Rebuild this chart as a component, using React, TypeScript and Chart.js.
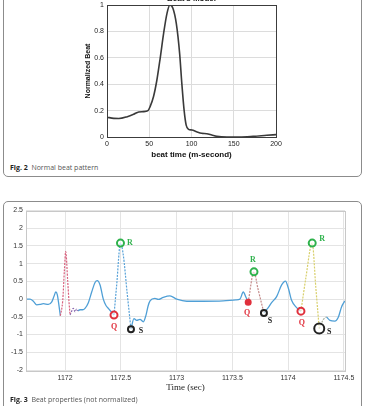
import React, { useEffect, useRef } from "react";
import { Chart, registerables } from "chart.js";

Chart.register(...registerables);

// ---- Fig. 2: normalized beat model ----
const beatMs = [0, 8, 14, 24, 31.5, 37.5, 43, 48.5, 51, 55, 59, 63, 67, 71, 74.5, 78, 82, 86, 88.5, 91.3, 93.7, 96.5, 100.5, 106, 112, 118, 124, 130, 142, 157, 173, 189, 200];
const beatLevel = [0.15, 0.141, 0.14, 0.154, 0.172, 0.19, 0.192, 0.2, 0.23, 0.305, 0.43, 0.6, 0.785, 0.937, 1.0, 0.975, 0.86, 0.63, 0.41, 0.2, 0.09, 0.058, 0.053, 0.04, 0.028, 0.025, 0.015, 0.005, 0, 0, 0.005, 0.013, 0.018];

// ---- Fig. 3: raw ECG trace ----
const timeSec = [
  1171.651, 1171.686, 1171.716, 1171.746, 1171.776, 1171.806, 1171.85, 1171.881, 1171.901, 1171.917,
  1171.931, 1171.942, 1171.958, 1171.979, 1171.994, 1172.006, 1172.024, 1172.036, 1172.045, 1172.058,
  1172.074, 1172.09, 1172.103, 1172.116, 1172.134, 1172.157, 1172.179, 1172.209, 1172.239, 1172.269,
  1172.289, 1172.314, 1172.343, 1172.367, 1172.388, 1172.412, 1172.439, 1172.463, 1172.497, 1172.522,
  1172.556, 1172.591, 1172.618, 1172.642, 1172.672, 1172.702, 1172.726, 1172.744, 1172.762, 1172.806,
  1172.836, 1172.881, 1172.941, 1173.001, 1173.091, 1173.239, 1173.418, 1173.532, 1173.568, 1173.598,
  1173.622, 1173.642, 1173.694, 1173.729, 1173.783, 1173.822, 1173.852, 1173.897, 1173.942, 1173.976,
  1174.001, 1174.031, 1174.076, 1174.115, 1174.159, 1174.216, 1174.249, 1174.279, 1174.315, 1174.344,
  1174.375, 1174.419, 1174.449, 1174.479, 1174.509,
];
const amplitude = [
  0.0, 0.0, -0.06, -0.16, -0.15, -0.13, -0.15, -0.08, 0.08, 0.2,
  0.12, -0.1, -0.47, -0.05, 0.8, 1.34, 0.5, -0.1, -0.45, -0.35,
  -0.26, -0.36, -0.28, -0.33, -0.3, -0.3, -0.26, -0.1, 0.2, 0.47,
  0.52, 0.4, 0.0, -0.18, -0.26, -0.35, -0.45, 0.4, 1.58, 1.25,
  0.2, -0.85, -0.55, -0.6, -0.57, -0.64, -0.45, -0.2, -0.05, 0.02,
  -0.01, 0.05, 0.09, 0.0, -0.06, -0.06, -0.05, -0.02, 0.0, 0.2,
  0.05, -0.09, 0.77, 0.3, -0.39, -0.24, -0.1, 0.07, 0.4, 0.51,
  0.32, -0.03, -0.24, -0.34, 0.6, 1.58, 0.3, -0.83, -0.58, -0.5,
  -0.6, -0.62, -0.52, -0.22, -0.05,
];

// highlighted beat segments [start, end] in seconds
const segmentStart = [1171.958, 1172.045, 1172.439, 1173.642, 1174.115, 1174.279];
const segmentEnd = [1172.045, 1172.116, 1172.591, 1173.783, 1174.279, 1174.344];
const segmentColor = ["#d9607d", "#8c6db0", "#58a2d8", "#c48a8a", "#d8cf6a", "#a8b0a0"];

// detected fiducial points
const qTime = [1172.439, 1173.642, 1174.115];
const qValue = [-0.45, -0.09, -0.34];
const rTime = [1172.497, 1173.694, 1174.216];
const rValue = [1.58, 0.77, 1.58];
const sTime = [1172.591, 1173.783, 1174.279];
const sValue = [-0.85, -0.39, -0.83];

const xTicks = [1172, 1172.5, 1173, 1173.5, 1174, 1174.5];

const SANS = '"Liberation Sans", Arial, sans-serif';
const SERIF = '"Liberation Serif", "Times New Roman", serif';

// stroke a box round the plotting area
const framePlugin = {
  id: "frame",
  afterDraw(chart: any, _args: any, opts: any) {
    const { ctx, chartArea: a } = chart;
    ctx.save();
    ctx.strokeStyle = opts.color || "#333";
    ctx.lineWidth = 1;
    ctx.strokeRect(Math.round(a.left) + 0.5, Math.round(a.top) + 0.5, Math.round(a.right - a.left), Math.round(a.bottom - a.top));
    ctx.restore();
  },
};

// plot heading drawn just above the box
const headingPlugin = {
  id: "heading",
  afterDraw(chart: any, _args: any, opts: any) {
    if (!opts.text) return;
    const { ctx, chartArea: a } = chart;
    ctx.save();
    ctx.font = `bold 8px ${SANS}`;
    ctx.fillStyle = "#111";
    ctx.textAlign = "center";
    ctx.textBaseline = "middle";
    ctx.fillText(opts.text, (a.left + a.right) / 2, a.top - 6);
    ctx.restore();
  },
};

// Q / R / S letters beside the marked points
const markLabelPlugin = {
  id: "markLabels",
  afterDatasetsDraw(chart: any) {
    const ctx = chart.ctx;
    chart.data.datasets.forEach((ds: any, i: number) => {
      if (!ds.markLabel) return;
      const meta = chart.getDatasetMeta(i);
      ctx.save();
      ctx.font = `bold 8px ${SERIF}`;
      ctx.fillStyle = ds.markColor;
      ctx.textAlign = "center";
      ctx.textBaseline = "middle";
      meta.data.forEach((el: any, j: number) => {
        const [dx, dy] = ds.labelShift[j];
        ctx.fillText(ds.markLabel, el.x + dx, el.y + dy);
      });
      ctx.restore();
    });
  },
};

const inside = (t: number, a: number, b: number) => t > a + 1e-9 && t < b - 1e-9;

export default function App() {
  const topRef = useRef<HTMLCanvasElement>(null);
  const botRef = useRef<HTMLCanvasElement>(null);

  useEffect(() => {
    const top = new Chart(topRef.current!, {
      type: "line",
      data: {
        datasets: [
          {
            data: beatMs.map((x, i) => ({ x, y: beatLevel[i] })),
            borderColor: "#3a3a3a",
            borderWidth: 1.6,
            pointRadius: 0,
            cubicInterpolationMode: "monotone",
            fill: false,
          },
        ],
      },
      options: {
        responsive: false,
        animation: false,
        layout: { padding: { left: 80, right: 89, top: 20, bottom: 0 } },
        plugins: {
          legend: { display: false },
          tooltip: { enabled: false },
          frame: { color: "#3c3c3c" },
          heading: { text: "Beat's Model" },
        } as any,
        scales: {
          x: {
            type: "linear",
            min: 0,
            max: 200,
            afterFit: (s: any) => { s.height = 23; },
            grid: { color: "#dcdcdc", drawTicks: false },
            border: { display: false },
            ticks: { stepSize: 50, padding: 3, color: "#222", font: { family: SANS, size: 7 }, callback: (v: any) => String(v) },
            title: { display: true, text: "beat time (m-second)", color: "#111", font: { family: SANS, size: 8, weight: "bold" }, padding: { top: 0, bottom: 0 } },
          },
          y: {
            min: 0,
            max: 1,
            afterFit: (s: any) => { s.width = 27; },
            grid: { color: "#dcdcdc", drawTicks: false },
            border: { display: false },
            ticks: { stepSize: 0.2, padding: 3, color: "#222", font: { family: SANS, size: 7 }, callback: (v: any) => String(Math.round(v * 10) / 10) },
            title: { display: true, text: "Normalized Beat", color: "#111", font: { family: SANS, size: 7, weight: "bold" }, padding: { top: 4, bottom: 0 } },
          },
        },
      } as any,
      plugins: [framePlugin, headingPlugin],
    });

    const inAnySegment = (t: number) => segmentStart.some((a, k) => inside(t, a, segmentEnd[k]));
    const mainTrace = timeSec.map((x, i) => ({ x, y: inAnySegment(x) ? null : amplitude[i] }));
    const segmentSets = segmentStart.map((a, k) => ({
      data: timeSec
        .map((x, i) => ({ x, y: amplitude[i] }))
        .filter((p) => p.x >= a - 1e-9 && p.x <= segmentEnd[k] + 1e-9),
      borderColor: segmentColor[k],
      borderWidth: 1.2,
      borderDash: [2, 1.2],
      pointRadius: 0,
      cubicInterpolationMode: "monotone",
      fill: false,
      order: 2,
    }));

    const markers = (ts: number[], vs: number[], color: string, label: string, radius: number[], fillc: string[], shift: number[][]) => ({
      type: "scatter",
      data: ts.map((x, i) => ({ x, y: vs[i] })),
      showLine: false,
      pointRadius: radius,
      pointBorderWidth: 2,
      pointBorderColor: color,
      pointBackgroundColor: fillc,
      markLabel: label,
      markColor: color,
      labelShift: shift,
      order: 0,
    });

    const clear = "rgba(255,255,255,0.6)";
    const bottom = new Chart(botRef.current!, {
      type: "line",
      data: {
        datasets: [
          markers(qTime, qValue, "#e0303c", "Q", [3.5, 2.5, 3.5], [clear, "#e0303c", clear], [[0, 11.5], [-1, 11], [1, 12]]),
          markers(rTime, rValue, "#2fb24c", "R", [3.5, 3.5, 3.5], [clear, clear, clear], [[9.5, 0], [-1, -12], [10, -4]]),
          markers(sTime, sValue, "#222222", "S", [3, 3, 5], [clear, clear, clear], [[10, 2], [6, 8], [10, 3]]),
          ...segmentSets,
          {
            data: mainTrace,
            borderColor: "#4f9fd6",
            borderWidth: 1.3,
            pointRadius: 0,
            spanGaps: false,
            cubicInterpolationMode: "monotone",
            fill: false,
            order: 3,
          },
        ],
      } as any,
      options: {
        responsive: false,
        animation: false,
        layout: { padding: { left: 0, right: 20, top: 15.5, bottom: 0 } },
        plugins: {
          legend: { display: false },
          tooltip: { enabled: false },
          frame: { color: "#c8c8c8" },
          heading: { text: "" },
        } as any,
        scales: {
          x: {
            type: "linear",
            min: 1171.65,
            max: 1174.51,
            afterFit: (s: any) => { s.height = 36; },
            afterBuildTicks: (s: any) => { s.ticks = xTicks.map((value) => ({ value })); },
            grid: { color: "#e4e4e4", drawTicks: false },
            border: { display: false },
            ticks: { padding: 4, color: "#333", font: { family: SANS, size: 7 }, callback: (v: any) => String(v), autoSkip: false, maxRotation: 0 },
            title: { display: true, text: "Time (sec)", color: "#222", font: { family: SERIF, size: 9 }, padding: { top: 0, bottom: 12.6 } },
          },
          y: {
            min: -2,
            max: 2.5,
            afterFit: (s: any) => { s.width = 26; },
            grid: { color: "#e4e4e4", drawTicks: false },
            border: { display: false },
            ticks: { stepSize: 0.5, padding: 3, color: "#333", font: { family: SANS, size: 7 }, callback: (v: any) => String(v) },
          },
        },
      } as any,
      plugins: [framePlugin, markLabelPlugin],
    });

    return () => {
      top.destroy();
      bottom.destroy();
    };
  }, []);

  const caption = (num: string, text: string, y: number) => (
    <div style={{ position: "absolute", left: 10, top: y, fontFamily: '"Open Sans", "Noto Sans", sans-serif', fontSize: 7, lineHeight: "9px", color: "#555", whiteSpace: "nowrap" }}>
      <span style={{ fontWeight: 700, color: "#222" }}>{num}</span>&nbsp; {text}
    </div>
  );

  return (
    <div style={{ position: "absolute", left: 0, top: 0, width: 365, height: 406, overflow: "hidden", background: "#fff" }}>
      <div style={{ position: "absolute", left: 3, top: -12, width: 359, height: 189, border: "1px solid #8c8c8c", borderRadius: 5, boxSizing: "border-box" }} />
      <div style={{ position: "absolute", left: 3, top: 201, width: 359, height: 230, border: "1px solid #8c8c8c", borderRadius: 5, boxSizing: "border-box" }} />
      <canvas ref={topRef} width={365} height={175} style={{ position: "absolute", left: 0, top: -15 }} />
      <canvas ref={botRef} width={365} height={211} style={{ position: "absolute", left: 0, top: 195 }} />
      {caption("Fig. 2", "Normal beat pattern", 163)}
      {caption("Fig. 3", "Beat properties (not normalized)", 394.5)}
    </div>
  );
}
